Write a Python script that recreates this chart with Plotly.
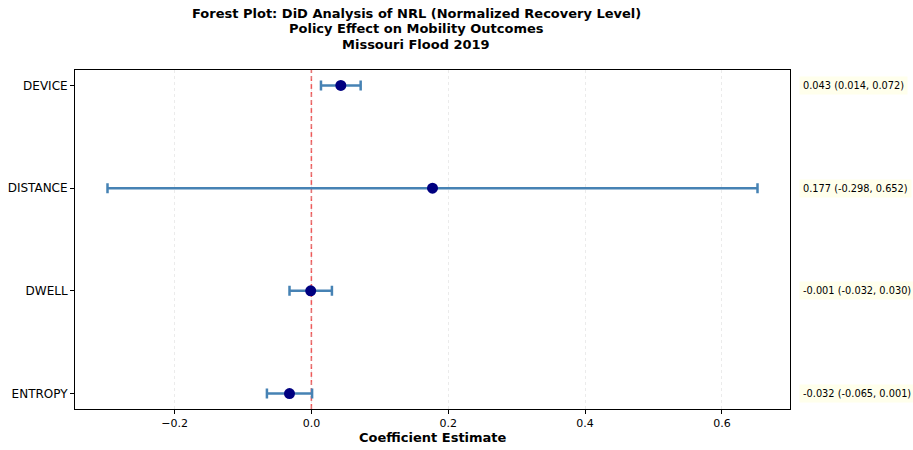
import plotly.graph_objects as go

categories = ["DEVICE", "DISTANCE", "DWELL", "ENTROPY"]
estimates = [0.043, 0.177, -0.001, -0.032]
ci_low = [0.014, -0.298, -0.032, -0.065]
ci_high = [0.072, 0.652, 0.030, 0.001]
x_ticks = [-0.2, 0.0, 0.2, 0.4, 0.6]
title_lines = ["Forest Plot: DiD Analysis of NRL (Normalized Recovery Level)",
               "Policy Effect on Mobility Outcomes",
               "Missouri Flood 2019"]

ypos = list(range(len(categories)))
err_plus = [h - e for h, e in zip(ci_high, estimates)]
err_minus = [e - l for e, l in zip(estimates, ci_low)]

W, H = 913, 450
ML, MR, MT, MB = 75, 123, 70, 41
PH = H - MT - MB
PW = W - ML - MR

fig = go.Figure()
fig.add_trace(go.Scatter(
    x=estimates, y=ypos, mode="markers",
    marker=dict(color="navy", size=11, line=dict(width=0)),
    error_x=dict(type="data", symmetric=False, array=err_plus, arrayminus=err_minus,
                 color="steelblue", thickness=2.5, width=5),
    showlegend=False,
))

fig.add_shape(type="line", xref="x", yref="paper", x0=0, x1=0, y0=0, y1=1,
              line=dict(color="rgba(240,70,70,0.9)", width=1.5, dash="5px,3px"), layer="below")

for i, (e, l, h) in enumerate(zip(estimates, ci_low, ci_high)):
    fig.add_annotation(
        x=1.0, xref="paper", xshift=9, xanchor="left", y=i, yref="y",
        text=f"{e:.3f} ({l:.3f}, {h:.3f})", showarrow=False,
        font=dict(size=9.8, color="black", family="DejaVu Sans"),
        bgcolor="rgba(255,255,224,0.6)", borderpad=3,
    )

for k, (line, py) in enumerate(zip(title_lines, [14, 29, 44])):
    fig.add_annotation(
        x=(416 - ML) / PW, xref="paper", xanchor="center", y=(H - MB - py) / PH, yref="paper",
        yanchor="middle", text=f"<b>{line}</b>", showarrow=False,
        font=dict(size=13, color="black", family="DejaVu Sans"),
    )

fig.add_annotation(
    x=0.5, xref="paper", xanchor="center", y=(H - MB - 437) / PH, yref="paper",
    yanchor="middle", text="<b>Coefficient Estimate</b>", showarrow=False,
    font=dict(size=13, color="black", family="DejaVu Sans"),
)

fig.update_layout(
    width=W, height=H,
    margin=dict(l=ML, r=MR, t=MT, b=MB, autoexpand=False),
    plot_bgcolor="white", paper_bgcolor="white",
    font=dict(family="DejaVu Sans", size=12, color="black"),
    xaxis=dict(
        range=[-0.3455, 0.6995], tickvals=x_ticks, tickformat=".1f",
        showline=True, mirror=True, linecolor="black", linewidth=1,
        ticks="outside", ticklen=4, tickcolor="black",
        showgrid=True, gridcolor="rgba(190,190,190,0.3)", griddash="dot", gridwidth=1,
        zeroline=False, automargin=False,
        tickfont=dict(size=11),
    ),
    yaxis=dict(
        range=[3.15, -0.15], tickvals=ypos, ticktext=categories,
        showline=True, mirror=True, linecolor="black", linewidth=1,
        ticks="outside", ticklen=4, tickcolor="black",
        showgrid=False, zeroline=False, automargin=False,
        tickfont=dict(size=12),
    ),
)

fig.write_html("out.html")
